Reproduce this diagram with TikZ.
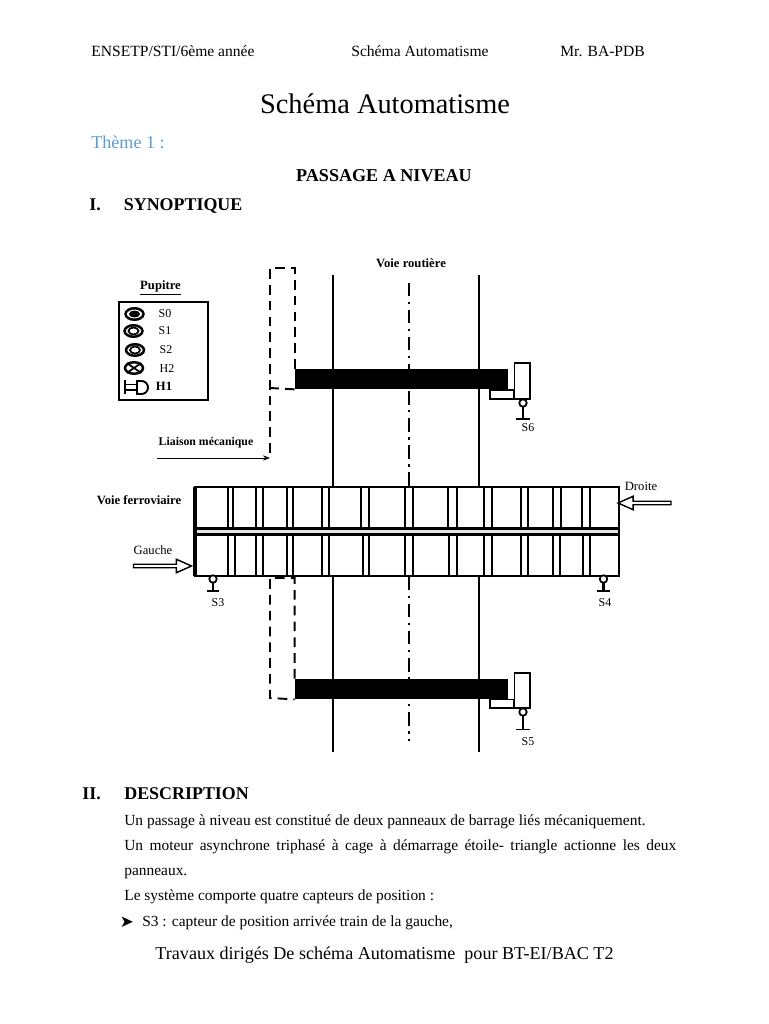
\documentclass[tikz,border=0pt]{standalone}
\usepackage{fontspec}
\setmainfont{Liberation Serif}
\newfontfamily\symfont{DejaVu Sans}
\usetikzlibrary{shapes.geometric}
\usetikzlibrary{shapes.arrows}
\usetikzlibrary{arrows.meta}
\definecolor{themeblue}{HTML}{5B9BD5}
\tikzset{
  txt/.style={anchor=base west,inner sep=0,font=\fontsize{8.78}{10}\selectfont},
  entete/.style={anchor=base west,inner sep=0,font=\fontsize{8.87}{10}\selectfont},
  soustitre/.style={anchor=base west,inner sep=0,font=\fontsize{10.2}{12}\selectfont\bfseries},
  etiq/.style={inner sep=0,font=\fontsize{7.2}{8}\selectfont\bfseries},
  capt/.style={inner sep=0,font=\fontsize{6.8}{8}\selectfont},
  route/.style={line width=1.2pt},
  axe/.style={line width=1.1pt,dash pattern=on 7.6pt off 3.3pt on 1.2pt off 3.3pt},
  liaison/.style={line width=1.1pt,dash pattern=on 5.5pt off 3.5pt},
  barriere/.style={fill=black,inner sep=0,minimum width=4.26cm,minimum height=0.4cm},
  boite/.style={draw,line width=1.1pt,fill=white,inner sep=0},
  voyant/.style={draw,ellipse,line width=1.4pt,inner sep=0,minimum width=0.36cm,minimum height=0.23cm},
  galet/.style={draw,circle,line width=1pt,fill=white,inner sep=0,minimum size=0.15cm},
  fleche/.style={draw,single arrow,line width=0.8pt,fill=white,inner sep=0,
    single arrow tip angle=48,single arrow head extend=0.04cm,minimum height=1.16cm,minimum width=0.27cm}
}

\begin{document}
\begin{tikzpicture}[x=0.02cm,y=-0.02cm]
      \useasboundingbox (0,0) rectangle (768,1024);

      % en-tete
      \node [entete] (ecole) at (91,57) {ENSETP/STI/6ème année};
      \node [entete] (matiere) at (351,57) {Schéma Automatisme};
      \node [entete] (prof) at (560,57) {Mr. BA-PDB};
      \node [anchor=base,inner sep=0,font=\fontsize{16.15}{18}\selectfont] (titre) at (385,113) {Schéma Automatisme};
      \node [anchor=base west,inner sep=0,text=themeblue,font=\fontsize{10.3}{12}\selectfont] (theme) at (91,149) {Thème 1 :};
      \node [anchor=base,inner sep=0,font=\fontsize{10.3}{12}\selectfont\bfseries] (sujet) at (384,181) {PASSAGE A NIVEAU};
      \node [soustitre] (numI) at (89,210.5) {I.};
      \node [soustitre] (synop) at (123.5,210.5) {SYNOPTIQUE};

      % pupitre
      \node [etiq] (pupitre) at (160.5,288) {\underline{Pupitre}};
      \draw [line width=1.1pt] (119,302) rectangle (208,400);

      \node [voyant] (s0) at (134.5,314) {};
      \fill (s0) ellipse [x radius=5.5,y radius=3.5];
      \node [voyant] (s1) at (133.5,331) {};
      \draw [line width=1pt] (s1) ellipse [x radius=5,y radius=3.5];
      \node [voyant] (s2) at (135,350) {};
      \draw [line width=1pt] (s2) ellipse [x radius=5,y radius=3.5];
      \node [voyant] (h2) at (134,368) {};
      \draw [line width=1pt] (h2.north west) -- (h2.south east);
      \draw [line width=1pt] (h2.north east) -- (h2.south west);

      \draw [line width=1.1pt] (125,380) -- (125,394);
      \draw [line width=1.1pt] (125,384.5) -- (137,384.5);
      \draw [line width=1.1pt] (125,390) -- (137,390);
      \draw [line width=1.1pt] (137,381) -- (141.5,381) arc [start angle=-90,end angle=90,radius=6.5] -- (137,394) -- cycle;

      \node [capt] (ls0) at (165,314) {S0};
      \node [capt] (ls1) at (165,331) {S1};
      \node [capt] (ls2) at (166,350) {S2};
      \node [capt] (lh2) at (167,369) {H2};
      \node [etiq] (lh1) at (164,386) {H1};

      % voie routiere
      \node [etiq] (vroute) at (411,263) {Voie routière};
      \draw [route] (333,275) -- (333,487);
      \draw [route] (479,275) -- (479,487);
      \draw [route] (333,576) -- (333,752);
      \draw [route] (479,576) -- (479,752);
      \draw [axe] (409,283) -- (409,487);
      \draw [axe] (409,577) -- (409,741);

      % barrieres
      \node [barriere] (barH) at (401.5,379) {};
      \node [barriere] (barB) at (401.5,689) {};

      \draw [boite] (490,390) rectangle (514,399);
      \draw [boite] (514.5,363) rectangle (530,399);
      \draw [line width=1.3pt] (523,404) -- (523,419);
      \draw [line width=1.1pt] (516,419) -- (530,419);
      \node [galet] (s6) at (523,403) {};
      \node [capt] (ls6) at (528,428) {S6};

      \draw [boite] (490,699.5) rectangle (514,708);
      \draw [boite] (514.5,673) rectangle (530,708);
      \draw [line width=1.3pt] (523,713) -- (523,729.5);
      \draw [line width=1.1pt] (516,729.5) -- (530,729.5);
      \node [galet] (s5) at (523,712) {};
      \node [capt] (ls5) at (528,742) {S5};

      % liaison mecanique
      \coordinate (hautG) at (270,268);
      \coordinate (basG) at (270,458);
      \coordinate (debF) at (157,458);
      \coordinate (hautGb) at (270,578);
      \coordinate (piqH) at (270,388);
      \coordinate (basGb) at (270,698);
      \draw [liaison] (barH.north west) |- (hautG) -- (basG);
      \draw [liaison] (barH.south west) -- (piqH);
      \draw [-{Stealth[length=4pt,width=3pt]},line width=0.5pt] (debF) -- (basG);
      \node [etiq,font=\fontsize{6.7}{8}\selectfont\bfseries] (lliaison) at (206,443) {Liaison mécanique};
      \draw [liaison] (barB.north west) |- (hautGb) -- (basGb) -- (barB.south west);

      % voie ferree
      \fill [black!10] (195,528.5) rectangle (619,534.5);
      \draw [line width=1.1pt] (195,487) rectangle (619,576);
      \draw [line width=1.8pt] (195,487) -- (195,576);
      \draw [line width=1.3pt] (195,528.5) -- (619,528.5);
      \draw [line width=1.3pt] (195,534.5) -- (619,534.5);

      \foreach \tx in {228,233,256,263,287,293,322,329,361,369,405,413,448,457,484,492,521,528,553,561,582,590}
        \draw [line width=1.3pt] (\tx,487) -- (\tx,528);
      \foreach \tx in {228,235,256,263,287,293,322,329,363,369,405,413,449,457,484,492,521,528,553,560,583,590}
        \draw [line width=1.3pt] (\tx,535) -- (\tx,576);

      \node [etiq] (vferree) at (139,500) {Voie ferroviaire};
      \node [capt,font=\fontsize{7.2}{8}\selectfont] (gauche) at (153,550) {Gauche};
      \node [capt,font=\fontsize{7.2}{8}\selectfont] (droite) at (641,486) {Droite};
      \node [fleche] (flG) at (160.5,566) {};
      \node [fleche,shape border rotate=180,minimum height=1.06cm] (flD) at (646.5,503) {};

      \draw [line width=1.3pt] (213,580) -- (213,591);
      \draw [line width=1.1pt] (207,591) -- (219,591);
      \node [galet] (s3) at (213,579) {};
      \node [capt] (ls3) at (218,603) {S3};
      \draw [line width=1.3pt] (603.5,580) -- (603.5,591);
      \draw [line width=1.1pt] (597,591) -- (610,591);
      \node [galet] (s4) at (603.5,579) {};
      \node [capt] (ls4) at (605,603) {S4};

      % description
      \node [soustitre] (numII) at (82,799) {II.};
      \node [soustitre] (descr) at (124,799) {DESCRIPTION};
      \node [txt] (l1) at (124,825) {Un passage à niveau est constitué de deux panneaux de barrage liés mécaniquement.};
      \node [txt] (l2) at (124,850) {\makebox[11.04cm][s]{Un moteur asynchrone triphasé à cage à démarrage étoile- triangle actionne les deux}};
      \node [txt] (l3) at (124,875) {panneaux.};
      \node [txt] (l4) at (124,900) {Le système comporte quatre capteurs de position :};
      \node [txt,font=\fontsize{9.5}{10}\selectfont\bfseries] (puce) at (119.5,927) {\symfont ➤};
      \node [txt] (l5) at (142,926) {S3 : capteur de position arrivée train de la gauche,};
      \node [anchor=base,inner sep=0,font=\fontsize{10.3}{12}\selectfont] (pied) at (384.5,959) {Travaux dirigés De schéma Automatisme\ \ pour BT-EI/BAC T2};

  \end{tikzpicture}
\end{document}
